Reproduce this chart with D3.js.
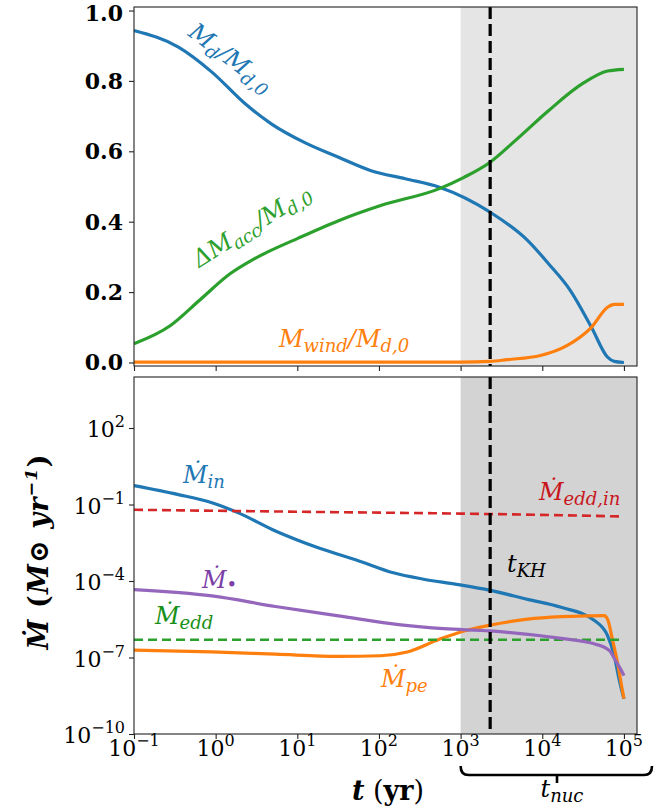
<!DOCTYPE html>
<html>
<head>
<meta charset="utf-8">
<script src="https://cdn.jsdelivr.net/npm/d3@7"></script>
<style>
  body { margin: 0; background: #fff; }
  svg { display: block; }
</style>
</head>
<body>
<div id="chart"></div>
<script>
// ---- data: [t (yr), value] ----
const diskMass = [[0.1, 0.943], [0.35, 0.896], [0.9, 0.825], [2.3, 0.735], [4.8, 0.678], [12, 0.626],
  [32, 0.583], [80, 0.545], [210, 0.522], [550, 0.498], [2300, 0.427], [6600, 0.347], [12000, 0.28],
  [22000, 0.205], [40000, 0.10], [63000, 0.015], [76000, 0.003], [100000, 0.0]];
const windMass = [[0.1, 0.001], [1000, 0.001], [2300, 0.003], [3700, 0.008], [9500, 0.02], [20000, 0.048],
  [40000, 0.10], [63000, 0.157], [76000, 0.165], [100000, 0.165]];
const accMass = [[0.1, 0.053], [0.28, 0.105], [0.63, 0.176], [1.5, 0.252], [3.0, 0.295], [10, 0.352],
  [32, 0.403], [105, 0.446], [550, 0.494], [1100, 0.526], [2300, 0.569], [4700, 0.631], [12000, 0.716],
  [31000, 0.792], [63000, 0.828], [100000, 0.833]];

const mdotIn = [[0.1, 0.55], [0.35, 0.245], [0.9, 0.117], [1.9, 0.047], [5.4, 9.1e-3], [18, 2.0e-3],
  [58, 6.0e-4], [150, 2.1e-4], [340, 1.2e-4], [890, 7.4e-5], [2300, 4.3e-5], [6600, 1.9e-5],
  [17000, 9.3e-6], [44000, 2.75e-6], [63000, 7.2e-7], [76000, 1.2e-7], [87000, 1.45e-8], [100000, 2.4e-9]];
const mdotPe = [[0.1, 1.95e-7], [0.9, 1.66e-7], [5.4, 1.35e-7], [32, 1.1e-7], [105, 1.17e-7], [215, 1.6e-7],
  [550, 5.2e-7], [1100, 1.1e-6], [2300, 1.86e-6], [6600, 3.2e-6], [17000, 4.0e-6], [35000, 4.3e-6],
  [57000, 4.4e-6], [63000, 3.2e-6], [72000, 5.4e-7], [83000, 6.8e-8], [95000, 5.9e-9], [100000, 2.4e-9]];
const mdotEdd = [[0.1, 5e-7], [100000, 5e-7]];
const mdotEddIn = [[0.1, 0.062], [10, 0.052], [1000, 0.044], [100000, 0.034]];
const mdotStar = [[0.1, 4.6e-5], [0.9, 2.6e-5], [5.4, 1.0e-5], [32, 4.3e-6], [185, 1.9e-6], [620, 1.35e-6],
  [2300, 1.1e-6], [17000, 5.6e-7], [44000, 3.4e-7], [66000, 1.9e-7], [79000, 7.6e-8], [91000, 3.5e-8],
  [100000, 1.95e-8]];

const tKH = 2300;
const tNucStart = 1000;
const xTicks = [0.1, 1, 10, 100, 1000, 10000, 100000];
const xTickExp = ["−1", "0", "1", "2", "3", "4", "5"];
const topTicks = [0, 0.2, 0.4, 0.6, 0.8, 1.0];
const botTicks = [1e-10, 1e-7, 1e-4, 1e-1, 1e2];
const botTickExp = ["−10", "−7", "−4", "−1", "2"];

const C = { blue: "#1f77b4", orange: "#ff7f0e", green: "#2ca02c", red: "#d62728", purple: "#9467bd" };

const W = 662, H = 808;
const svg = d3.select("#chart").append("svg").attr("width", W).attr("height", H);

const left = 134, right = 637;
const x = d3.scaleLog().domain([0.1, Math.pow(10, 5.16)]).range([left, right]);
const yTop = d3.scaleLinear().domain([-0.01, 1.01]).range([366, 7]);
const yBot = d3.scaleLog().domain([1e-10, 1e4]).range([734, 377]);

// text with sub/superscripts; parts are strings or [text, shift, style]
function mathLabel(sel, px, py, parts, o) {
  const t = sel.append("text").attr("x", px).attr("y", py)
    .attr("fill", o.color || "#000")
    .attr("font-size", o.size)
    .attr("font-family", o.family || "DejaVu Serif")
    .attr("font-style", o.style || "italic")
    .attr("font-weight", o.weight || "normal")
    .attr("text-anchor", o.anchor || "start");
  if (o.rotate) t.attr("transform", `rotate(${o.rotate},${px},${py})`);
  if (o.len) t.attr("textLength", o.len).attr("lengthAdjust", "spacing");
  let cur = 0;
  parts.forEach(p => {
    const s = typeof p === "string" ? p : p[0];
    const sh = typeof p === "string" ? 0 : p[1];
    const ts = t.append("tspan").attr("dy", sh - cur).text(s);
    if (sh) ts.attr("font-size", o.size * (o.sub || 0.75));
    if (typeof p !== "string" && p[2]) ts.attr("font-style", p[2]);
    cur = sh;
  });
  return t;
}

function panel(y, shade) {
  const g = svg.append("g");
  const [y1, y0] = y.range();
  const clipId = "clip" + Math.round(y0);
  svg.append("clipPath").attr("id", clipId).append("rect")
    .attr("x", left).attr("y", y0).attr("width", right - left).attr("height", y1 - y0);
  g.append("rect").attr("x", x(tNucStart)).attr("y", y0)
    .attr("width", right - x(tNucStart)).attr("height", y1 - y0).attr("fill", shade);
  const plot = g.append("g").attr("clip-path", `url(#${clipId})`);
  return { g, plot, y0, y1 };
}

function drawLine(p, y, data, color, dash) {
  const line = d3.line().x(d => x(d[0])).y(d => y(d[1])).curve(d3.curveMonotoneX);
  p.plot.append("path").datum(data).attr("d", line)
    .attr("fill", "none").attr("stroke", color)
    .attr("stroke-width", dash ? 2.6 : 3.2)
    .attr("stroke-dasharray", dash || null);
}

function kh(p) {
  p.plot.append("line").attr("x1", x(tKH)).attr("x2", x(tKH)).attr("y1", p.y0).attr("y2", p.y1)
    .attr("stroke", "#000").attr("stroke-width", 3.2).attr("stroke-dasharray", "12,5");
}

function frame(p) {
  p.g.append("rect").attr("x", left).attr("y", p.y0).attr("width", right - left)
    .attr("height", p.y1 - p.y0).attr("fill", "none").attr("stroke", "#222").attr("stroke-width", 1.1);
}

// ---- top panel ----
const topP = panel(yTop, "#e5e5e5");
drawLine(topP, yTop, diskMass, C.blue);
drawLine(topP, yTop, windMass, C.orange);
drawLine(topP, yTop, accMass, C.green);
kh(topP);
frame(topP);

const axTopX = topP.g.append("g").attr("transform", `translate(0,${topP.y1})`)
  .call(d3.axisBottom(x).tickValues(xTicks).tickFormat("").tickSize(5).tickSizeOuter(0));
axTopX.select(".domain").remove();
const axTopY = topP.g.append("g").attr("transform", `translate(${left},0)`)
  .call(d3.axisLeft(yTop).tickValues(topTicks).tickFormat(d3.format(".1f")).tickSize(5).tickPadding(6));
axTopY.select(".domain").remove();
axTopY.selectAll("text").attr("font-family", "DejaVu Serif").attr("font-weight", "bold")
  .attr("font-size", 22).attr("fill", "#000").attr("dy", "0.34em");
axTopY.selectAll(".tick").filter(d => d === 1).select("text").attr("dy", "0.45em");

mathLabel(topP.g, 187, 35, ["M", ["d", 5], "/M", ["d,0", 5]], { color: C.blue, size: 24, rotate: 37 });
mathLabel(topP.g, 199, 268, ["ΔM", ["acc", 5], "/M", ["d,0", 5]], { color: C.green, size: 24, rotate: -32 });
mathLabel(topP.g, 279, 347, ["M", ["wind", 5], "/M", ["d,0", 5]], { color: C.orange, size: 24 });

// ---- bottom panel ----
const botP = panel(yBot, "#d3d3d3");
drawLine(botP, yBot, mdotIn, C.blue);
drawLine(botP, yBot, mdotPe, C.orange);
drawLine(botP, yBot, mdotEdd, C.green, "9,5");
drawLine(botP, yBot, mdotEddIn, C.red, "9,5");
drawLine(botP, yBot, mdotStar, C.purple);
kh(botP);
frame(botP);

const axBotX = botP.g.append("g").attr("transform", `translate(0,${botP.y1})`)
  .call(d3.axisBottom(x).tickValues(xTicks).tickFormat("").tickSize(5).tickSizeOuter(0));
axBotX.select(".domain").remove();
xTicks.forEach((t, i) => {
  const tx = botP.g.append("text").attr("x", x(t)).attr("y", 756).attr("text-anchor", "middle")
    .attr("font-family", "DejaVu Serif").attr("font-size", 22);
  tx.append("tspan").text("10");
  tx.append("tspan").attr("dy", -10).attr("font-size", 16).text(xTickExp[i]);
});
const axBotY = botP.g.append("g").attr("transform", `translate(${left},0)`)
  .call(d3.axisLeft(yBot).tickValues(botTicks).tickFormat("").tickSize(5));
axBotY.select(".domain").remove();
botTicks.forEach((v, i) => {
  const tx = botP.g.append("text").attr("x", 125).attr("y", yBot(v) + 9).attr("text-anchor", "end")
    .attr("font-family", "DejaVu Serif").attr("font-size", 22);
  tx.append("tspan").text("10");
  tx.append("tspan").attr("dy", -10).attr("font-size", 16).text(botTickExp[i]);
});
svg.selectAll(".tick line").attr("stroke", "#222").attr("stroke-width", 1.1);

mathLabel(botP.g, 183, 483, ["Ṁ", ["in", 5]], { color: C.blue, size: 24 });
mathLabel(botP.g, 539, 500, ["Ṁ", ["edd,in", 5]], { color: "#c8161d", size: 24 });
mathLabel(botP.g, 507, 572, ["t", ["KH", 5]], { color: "#000", size: 24 });
mathLabel(botP.g, 202, 588, ["Ṁ", ["•", 3, "normal"]], { color: "#7b3fa8", size: 24 });
mathLabel(botP.g, 155, 624, ["Ṁ", ["edd", 5]], { color: "#189018", size: 24 });
mathLabel(botP.g, 381, 687, ["Ṁ", ["pe", 5]], { color: C.orange, size: 24 });

// axis titles
mathLabel(svg, 48, 552, ["Ṁ", ["  (", 0, "normal"], "M", "⊙", " yr", ["−1", -11], [")", 0, "normal"]],
  { size: 27, weight: "bold", anchor: "middle", rotate: -90, sub: 0.65, len: 195 });
const xl = svg.append("text").attr("x", 388).attr("y", 800).attr("text-anchor", "middle")
  .attr("font-family", "DejaVu Serif").attr("font-size", 27).attr("font-weight", "bold");
xl.append("tspan").attr("font-style", "italic").text("t");
xl.append("tspan").attr("font-weight", "normal").text(" (");
xl.append("tspan").text("yr");
xl.append("tspan").attr("font-weight", "normal").text(")");

// t_nuc bracket
const bx0 = x(tNucStart), bx1 = 652, by = 775, bmid = 557;
svg.append("path")
  .attr("d", `M${bx0},766 Q${bx0},${by} ${bx0 + 8},${by} L${bx1 - 8},${by} Q${bx1},${by} ${bx1},766 M${bmid},${by} L${bmid},783`)
  .attr("fill", "none").attr("stroke", "#000").attr("stroke-width", 2.6);
mathLabel(svg, 562, 797, ["t", ["nuc", 5]], { color: "#000", size: 24, anchor: "middle" });
</script>
</body>
</html>
